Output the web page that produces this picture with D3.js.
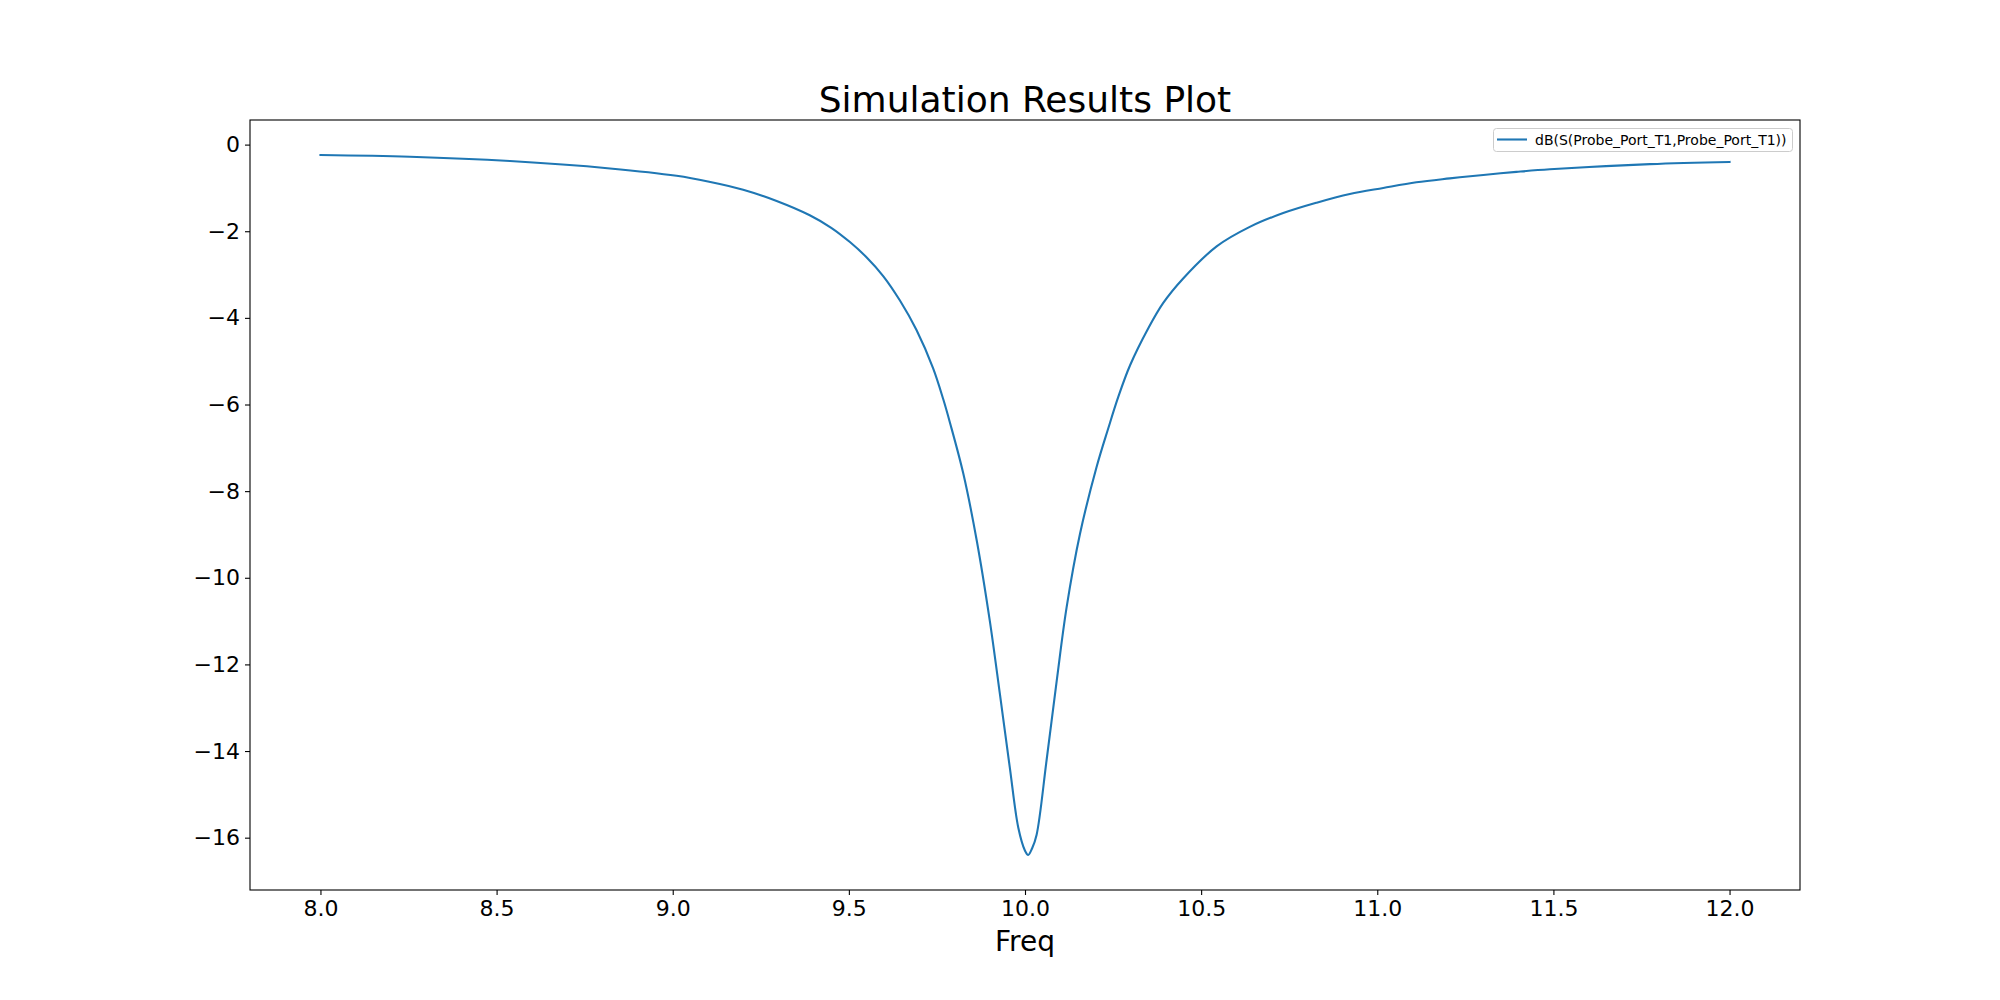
<!DOCTYPE html>
<html>
<head>
<meta charset="utf-8">
<script src="https://cdn.jsdelivr.net/npm/d3@7"></script>
<style>
  html, body { margin: 0; padding: 0; background: #fff; }
  svg { display: block; font-family: "DejaVu Sans", sans-serif; }
</style>
</head>
<body>
<svg id="chart" width="2000" height="1000"></svg>
<script>
const freq = [8.0, 8.254, 8.538, 8.822, 9.011, 9.1, 9.2, 9.295, 9.389, 9.45, 9.503, 9.55, 9.598, 9.645, 9.692, 9.739, 9.768, 9.787, 9.825, 9.863, 9.9, 9.929, 9.957, 9.981, 10.0, 10.009, 10.02, 10.033, 10.061, 10.09, 10.118, 10.156, 10.203, 10.236, 10.265, 10.298, 10.35, 10.392, 10.449, 10.544, 10.638, 10.733, 10.828, 10.922, 11.017, 11.111, 11.206, 11.301, 11.395, 11.49, 11.774, 12.0];
const s11dB = [-0.24, -0.28, -0.38, -0.55, -0.72, -0.85, -1.04, -1.30, -1.63, -1.92, -2.25, -2.60, -3.04, -3.60, -4.28, -5.16, -5.88, -6.42, -7.60, -9.14, -10.99, -12.70, -14.39, -15.77, -16.30, -16.40, -16.25, -15.93, -14.23, -12.38, -10.69, -8.99, -7.45, -6.56, -5.82, -5.10, -4.24, -3.66, -3.09, -2.35, -1.90, -1.58, -1.34, -1.14, -1.00, -0.87, -0.78, -0.70, -0.63, -0.57, -0.45, -0.40];
const xTicks = [8.0, 8.5, 9.0, 9.5, 10.0, 10.5, 11.0, 11.5, 12.0];
const yTicks = [0, -2, -4, -6, -8, -10, -12, -14, -16];
const seriesName = "dB(S(Probe_Port_T1,Probe_Port_T1))";
const titleText = "Simulation Results Plot";
const xLabel = "Freq";

const data = freq.map((f, i) => ({ f, v: s11dB[i] }));

const L = 250, R = 1800, T = 120, B = 890;
const svg = d3.select("#chart");

const xMin = d3.min(freq), xMax = d3.max(freq);
const xPad = (xMax - xMin) * 0.05;
const yMin = d3.min(s11dB), yMax = d3.max(s11dB);
const yPad = (yMax - yMin) * 0.05;

const x = d3.scaleLinear().domain([xMin - xPad, xMax + xPad]).range([L, R]);
const y = d3.scaleLinear().domain([yMin - yPad, yMax + yPad]).range([B, T]);

// line
const line = d3.line().x(d => x(d.f)).y(d => y(d.v)).curve(d3.curveCatmullRom.alpha(0.5));
svg.append("path")
  .datum(data)
  .attr("d", line)
  .attr("fill", "none")
  .attr("stroke", "#1f77b4")
  .attr("stroke-width", 2.1)
  .attr("stroke-linejoin", "round")
  .attr("stroke-linecap", "square");

// axes
const xAxis = d3.axisBottom(x).tickValues(xTicks).tickFormat(d3.format(".1f")).tickSize(5).tickPadding(5);
const gx = svg.append("g").attr("transform", `translate(0,${B})`).call(xAxis);
gx.select(".domain").remove();
gx.selectAll(".tick line").attr("stroke", "#000").attr("stroke-width", 1.1);
gx.selectAll(".tick text").attr("font-size", 22).attr("fill", "#000").attr("font-family", "DejaVu Sans");

const yAxis = d3.axisLeft(y).tickValues(yTicks).tickFormat(d => d < 0 ? "\u2212" + Math.abs(d) : String(d)).tickSize(5).tickPadding(5);
const gy = svg.append("g").attr("transform", `translate(${L},0)`).call(yAxis);
gy.select(".domain").remove();
gy.selectAll(".tick line").attr("stroke", "#000").attr("stroke-width", 1.1);
gy.selectAll(".tick text").attr("font-size", 22).attr("fill", "#000").attr("font-family", "DejaVu Sans");

// frame
svg.append("rect")
  .attr("x", L).attr("y", T).attr("width", R - L).attr("height", B - T)
  .attr("fill", "none").attr("stroke", "#000").attr("stroke-width", 1.1);

// title
svg.append("text")
  .attr("x", (L + R) / 2).attr("y", 112)
  .attr("text-anchor", "middle")
  .attr("font-size", 36)
  .attr("fill", "#000")
  .text(titleText);

// x label
svg.append("text")
  .attr("x", (L + R) / 2).attr("y", 951)
  .attr("text-anchor", "middle")
  .attr("font-size", 28)
  .attr("fill", "#000")
  .text(xLabel);

// legend
const lg = svg.append("g");
lg.append("rect")
  .attr("x", 1493.5).attr("y", 128.5).attr("width", 299).attr("height", 23)
  .attr("rx", 3).attr("ry", 3)
  .attr("fill", "#fff").attr("fill-opacity", 0.8)
  .attr("stroke", "#cccccc").attr("stroke-width", 1);
lg.append("line")
  .attr("x1", 1497).attr("x2", 1527).attr("y1", 139.5).attr("y2", 139.5)
  .attr("stroke", "#1f77b4").attr("stroke-width", 2.1);
lg.append("text")
  .attr("x", 1535).attr("y", 145)
  .attr("font-size", 14)
  .attr("fill", "#000")
  .text(seriesName);
</script>
</body>
</html>
